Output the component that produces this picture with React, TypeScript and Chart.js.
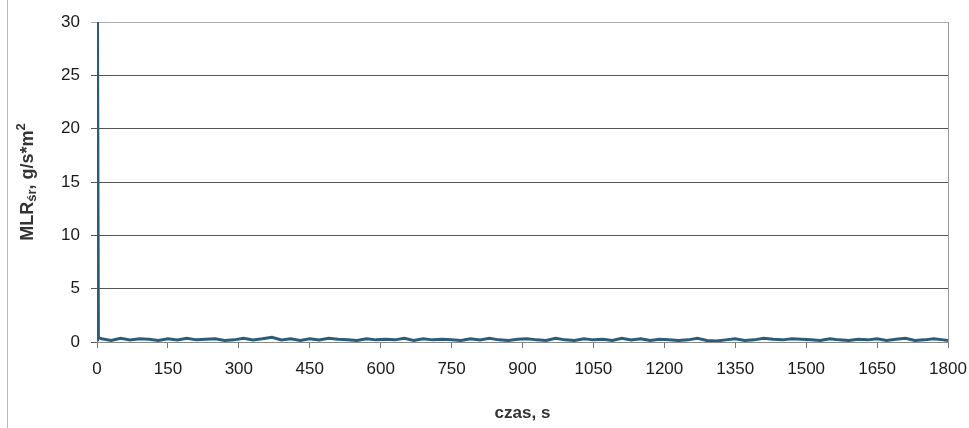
import React, { useEffect, useRef } from "react";
import { Chart, registerables } from "chart.js";

Chart.register(...registerables);

const xTicks = [0, 150, 300, 450, 600, 750, 900, 1050, 1200, 1350, 1500, 1650, 1800];
const yTicks = [0, 5, 10, 15, 20, 25, 30];

// time (s) and MLR values
const spikeTimes = [0, 1, 3];
const spikeValues = [0.2, 30, 0.4];

const baseTimes = [
  10, 30, 50, 70, 90, 110, 130, 150, 170, 190, 210, 230, 250, 270, 290, 310, 330, 350, 370, 390,
  410, 430, 450, 470, 490, 510, 530, 550, 570, 590, 610, 630, 650, 670, 690, 710, 730, 750, 770, 790,
  810, 830, 850, 870, 890, 910, 930, 950, 970, 990, 1010, 1030, 1050, 1070, 1090, 1110, 1130, 1150, 1170, 1190,
  1210, 1230, 1250, 1270, 1290, 1310, 1330, 1350, 1370, 1390, 1410, 1430, 1450, 1470, 1490, 1510, 1530, 1550, 1570, 1590,
  1610, 1630, 1650, 1670, 1690, 1710, 1730, 1750, 1770, 1790, 1800,
];
const baseValues = [
  0.3, 0.15, 0.35, 0.2, 0.3, 0.25, 0.15, 0.3, 0.2, 0.35, 0.2, 0.25, 0.3, 0.15, 0.2, 0.35, 0.2, 0.3, 0.45, 0.2,
  0.3, 0.15, 0.3, 0.2, 0.35, 0.25, 0.2, 0.15, 0.3, 0.2, 0.25, 0.2, 0.35, 0.15, 0.3, 0.2, 0.25, 0.2, 0.15, 0.3,
  0.2, 0.35, 0.2, 0.15, 0.25, 0.3, 0.2, 0.15, 0.35, 0.2, 0.15, 0.3, 0.2, 0.25, 0.15, 0.35, 0.2, 0.3, 0.15, 0.25,
  0.2, 0.15, 0.2, 0.35, 0.15, 0.1, 0.2, 0.3, 0.15, 0.2, 0.35, 0.25, 0.2, 0.3, 0.25, 0.2, 0.15, 0.3, 0.2, 0.15,
  0.25, 0.2, 0.3, 0.15, 0.25, 0.35, 0.15, 0.2, 0.3, 0.2, 0.15,
];

const FONT = "'Liberation Sans', Arial, sans-serif";

const frame = {
  id: "frame",
  afterDraw(chart: any) {
    const { ctx, chartArea } = chart;
    const { left, right, top, bottom } = chartArea;
    ctx.save();
    ctx.strokeStyle = "#9a9a9a";
    ctx.lineWidth = 1;
    ctx.beginPath();
    ctx.moveTo(right + 0.5, top);
    ctx.lineTo(right + 0.5, bottom);
    ctx.stroke();
    // y axis title with subscript
    ctx.translate(28, (top + bottom) / 2);
    ctx.rotate(-Math.PI / 2);
    ctx.fillStyle = "#333";
    ctx.textBaseline = "middle";
    const big = "bold 18px " + FONT;
    const small = "bold 13px " + FONT;
    const parts: [string, string, number][] = [
      ["MLR", big, 0],
      ["śr", small, 4],
      [", g/s*m", big, 0],
      ["2", small, -7],
    ];
    let total = 0;
    for (const [t, f] of parts) {
      ctx.font = f;
      total += ctx.measureText(t).width;
    }
    let x = -total / 2;
    for (const [t, f, dy] of parts) {
      ctx.font = f;
      ctx.fillText(t, x, dy);
      x += ctx.measureText(t).width;
    }
    ctx.restore();
  },
};

export default function App() {
  const ref = useRef<HTMLCanvasElement>(null);
  useEffect(() => {
    const data = [
      ...spikeTimes.map((t, i) => ({ x: t, y: spikeValues[i] })),
      ...baseTimes.map((t, i) => ({ x: t, y: baseValues[i] })),
    ];
    const chart = new Chart(ref.current!, {
      type: "line",
      data: {
        datasets: [
          {
            data,
            borderColor: "#2b5d78",
            borderWidth: 3,
            pointRadius: 0,
            tension: 0,
          },
        ],
      },
      options: {
        animation: false,
        responsive: false,
        layout: { padding: { top: 22, right: 21, left: 0, bottom: 0 } },
        plugins: { legend: { display: false }, tooltip: { enabled: false } },
        scales: {
          x: {
            type: "linear",
            min: 0,
            max: 1800,
            afterBuildTicks: (s: any) => {
              s.ticks = xTicks.map((v) => ({ value: v }));
            },
            afterFit: (s: any) => {
              s.height = 86;
              s.paddingLeft = 0;
              s.paddingRight = 0;
            },
            grid: { drawOnChartArea: false, drawTicks: true, tickLength: 6, color: "#777" },
            border: { color: "#888" },
            ticks: {
              color: "#1a1a1a",
              font: { family: FONT, size: 17 },
              padding: 11,
              maxRotation: 0,
              callback: (v: any) => String(v),
            },
            title: {
              display: true,
              text: "czas, s",
              color: "#333",
              font: { family: FONT, size: 17, weight: "bold" },
              padding: { top: 22 },
            },
          },
          y: {
            min: 0,
            max: 30,
            afterBuildTicks: (s: any) => {
              s.ticks = yTicks.map((v) => ({ value: v }));
            },
            afterFit: (s: any) => {
              s.width = 97;
              s.paddingTop = 0;
              s.paddingBottom = 0;
            },
            grid: {
              color: (c: any) => (c.tick && c.tick.value === 30 ? "#aaa" : "#555"),
              tickLength: 6,
              lineWidth: 1,
            },
            border: { color: "#888" },
            ticks: {
              color: "#1a1a1a",
              font: { family: FONT, size: 17 },
              padding: 11,
              callback: (v: any) => String(v),
            },
          },
        },
      },
      plugins: [frame],
    });
    return () => chart.destroy();
  }, []);
  return (
    <div style={{ position: "fixed", left: 0, top: 0, width: 969, height: 428, background: "#fff" }}>
      <div style={{ position: "absolute", left: 7, top: 0, width: 1, height: 428, background: "#bbb" }} />
      <canvas ref={ref} width={969} height={428} style={{ position: "absolute", left: 0, top: 0 }} />
    </div>
  );
}
